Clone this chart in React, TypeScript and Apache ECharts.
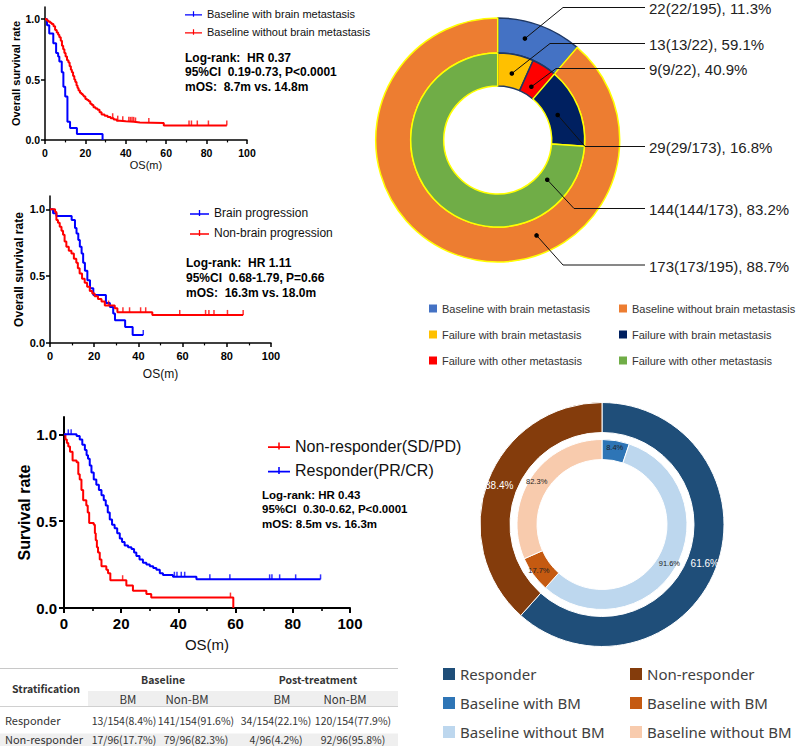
import React, { useEffect, useRef } from 'react';
import * as echarts from 'echarts';

// ---------------- DATA ----------------
// Panel A: baseline brain metastasis vs none (time in months, survival)
const aBmName = 'Baseline with brain metastasis';
const aBmTime = [0, 1.0, 2.1, 4.1, 5.5, 6.5, 7.1, 8.3, 9.1, 10.0, 11.1, 12.4, 15.8, 28.5];
const aBmSurv = [1.0, 0.95, 0.88, 0.8, 0.72, 0.69, 0.65, 0.56, 0.44, 0.36, 0.15, 0.1, 0.05, 0.0];
const aBmEnd = 28.5;
const aBmCensor: number[] = [];
const aNoName = 'Baseline without brain metastasis';
const aNoTime = [0, 0.8, 1.5, 2.5, 3.3, 4.2, 5.0, 5.8, 6.5, 7.1, 7.8, 8.4, 9.0, 9.6, 10.2, 10.9, 11.6, 12.2, 12.8, 13.3, 13.9, 14.5, 15.0, 15.6, 16.1, 16.6, 17.3, 18.0, 18.7, 19.2, 20.0, 20.8, 21.6, 22.4, 23.2, 24.0, 25.0, 26.0, 27.0, 28.0, 29.5, 31.0, 32.5, 34.0, 35.5, 37.0, 40.0, 44.0, 47.0, 58.8];
const aNoSurv = [1.0, 0.99, 0.98, 0.97, 0.96, 0.94, 0.91, 0.89, 0.87, 0.85, 0.82, 0.78, 0.75, 0.72, 0.69, 0.66, 0.64, 0.61, 0.58, 0.56, 0.53, 0.5, 0.48, 0.45, 0.43, 0.41, 0.39, 0.38, 0.37, 0.36, 0.34, 0.33, 0.32, 0.3, 0.29, 0.27, 0.26, 0.25, 0.23, 0.21, 0.2, 0.19, 0.18, 0.17, 0.16, 0.155, 0.15, 0.145, 0.14, 0.12];
const aNoEnd = 90;
const aNoCensor = [33.5, 36, 38.5, 41.5, 42.3, 43.1, 43.9, 44.8, 51.4, 71.3, 72.5, 75.4, 80.9, 90];
const statsA = ['Log-rank:  HR 0.37', '95%CI  0.19-0.73, P<0.0001', 'mOS:  8.7m vs. 14.8m'];

// Panel B: brain progression vs non-brain progression
const bBrName = 'Brain progression';
const bBrTime = [0, 1.4, 2.9, 9.8, 11.3, 12.0, 12.8, 13.5, 14.3, 15.0, 15.8, 16.9, 18.1, 19.6, 25.3, 27.1, 28.6, 29.4, 34.0, 37.4];
const bBrSurv = [1, 0.97, 0.95, 0.92, 0.86, 0.82, 0.77, 0.72, 0.67, 0.6, 0.54, 0.47, 0.41, 0.36, 0.3, 0.27, 0.22, 0.17, 0.12, 0.06];
const bBrEnd = 42.2;
const bBrCensor = [42.2];
const bNoName = 'Non-brain progression';
const bNoTime = [0, 2.3, 2.9, 3.6, 4.4, 5.2, 5.9, 6.6, 7.4, 8.5, 9.7, 10.8, 11.9, 12.6, 13.4, 14.5, 15.7, 16.8, 18.0, 19.1, 20.2, 21.7, 23.3, 24.8, 29.3, 30.5, 46.3];
const bNoSurv = [1, 0.98, 0.92, 0.9, 0.87, 0.84, 0.81, 0.76, 0.72, 0.69, 0.67, 0.63, 0.6, 0.56, 0.52, 0.48, 0.45, 0.42, 0.39, 0.37, 0.35, 0.33, 0.31, 0.28, 0.26, 0.23, 0.21];
const bNoEnd = 87.4;
const bNoCensor = [26.5, 33, 36, 41, 43.3, 58.7, 70.4, 71.9, 74.2, 80.3, 87.4];
const statsB = ['Log-rank:  HR 1.11', '95%CI  0.68-1.79, P=0.66', 'mOS:  16.3m vs. 18.0m'];

// Panel C: responder vs non-responder
const cNrName = 'Non-responder(SD/PD)';
const cNrTime = [0, 0.5, 1.0, 1.5, 2.1, 3.0, 4.4, 5.0, 5.5, 6.1, 6.7, 7.8, 8.3, 8.8, 10.4, 10.8, 11.1, 11.5, 11.9, 12.5, 13.1, 14.8, 15.4, 16.2, 21.8, 24.1, 28.8, 30.5, 59.2];
const cNrSurv = [1, 0.97, 0.95, 0.93, 0.9, 0.85, 0.84, 0.77, 0.74, 0.68, 0.62, 0.59, 0.55, 0.49, 0.48, 0.43, 0.39, 0.35, 0.32, 0.28, 0.24, 0.22, 0.2, 0.16, 0.13, 0.1, 0.08, 0.06, 0];
const cNrEnd = 59.2;
const cNrCensor = [20.5, 58.2];
const cRName = 'Responder(PR/CR)';
const cRTime = [0, 4.4, 5.5, 6.4, 7.3, 7.9, 8.4, 9.0, 9.6, 10.4, 11.3, 12.2, 13.1, 13.9, 14.6, 15.3, 16.0, 16.8, 17.7, 18.6, 19.5, 20.3, 21.2, 22.4, 23.6, 24.5, 25.3, 26.4, 27.6, 28.8, 30.0, 31.2, 32.3, 33.5, 34.6, 38.1, 46.3];
const cRSurv = [1, 0.99, 0.97, 0.94, 0.91, 0.88, 0.86, 0.82, 0.78, 0.74, 0.71, 0.68, 0.65, 0.62, 0.59, 0.55, 0.51, 0.48, 0.46, 0.43, 0.4, 0.38, 0.36, 0.35, 0.34, 0.32, 0.3, 0.28, 0.26, 0.25, 0.24, 0.23, 0.22, 0.2, 0.19, 0.18, 0.165];
const cREnd = 89.7;
const cRCensor = [1.5, 2.5, 38.6, 39.5, 41, 42.2, 51, 58, 71.9, 72.7, 75.4, 81, 89.7];
const statsC = ['Log-rank: HR 0.43', '95%CI  0.30-0.62, P<0.0001', 'mOS: 8.5m vs. 16.3m'];

const xTickValues = [0, 20, 40, 60, 80, 100];
const yTickValues = [0, 0.5, 1.0];

// Donut 1 (failure pattern)
const d1OuterNames = ['Baseline with brain metastasis', 'Baseline without brain metastasis'];
const d1OuterValues = [22, 173];
const d1InnerNames = ['Failure with brain metastasis', 'Failure with other metastasis', 'Failure with brain metastasis', 'Failure with other metastasis'];
const d1InnerValues = [13, 9, 29, 144];
const d1InnerParent = [0, 0, 1, 1];

// Donut 2 (response)
const d2OuterNames = ['Responder', 'Non-responder'];
const d2OuterValues = [154, 96];
const d2InnerNames = ['Baseline with BM', 'Baseline without BM', 'Baseline with BM', 'Baseline without BM'];
const d2InnerValues = [13, 141, 17, 79];
const d2InnerParent = [0, 0, 1, 1];

// Table
const tableGroups = ['Baseline', 'Post-treatment'];
const tableCols = ['BM', 'Non-BM', 'BM', 'Non-BM'];
const tableRows = ['Responder', 'Non-responder'];
const tableValues = [
  ['13/154(8.4%)', '141/154(91.6%)', '34/154(22.1%)', '120/154(77.9%)'],
  ['17/96(17.7%)', '79/96(82.3%)', '4/96(4.2%)', '92/96(95.8%)'],
];

// ---------------- STYLE / LAYOUT ----------------
const FONT = 'Arial, "Liberation Sans", sans-serif';
const CJK = '"Noto Sans CJK SC", "Noto Sans", sans-serif';
const RED = '#FF0000';
const BLUE = '#0000FF';
const KM_ICON = 'path://M0,3.5L20,3.5L20,5L0,5Z M9.3,0L10.7,0L10.7,6.5L9.3,6.5Z';

const d1OuterColors = ['#4472C4', '#ED7D31'];
const d1OuterBorders = ['#1F3864', '#FFFF00'];
const d1InnerColors = ['#FFC000', '#FF0000', '#002060', '#70AD47'];
const d1InnerBorders = ['#1F3864', '#1F3864', '#FFFF00', '#FFFF00'];
const d1Center = [497.7, 140];
const d1OuterR = [87, 122];
const d1InnerR = [54, 87];
// annotation layout: [ring, index, fraction along slice, anchor radius, elbow x, elbow y]
const d1Annot: [string, number, number, number, number, number][] = [
  ['o', 0, 0.37, 105, 563, 7.5],
  ['i', 0, 0.5, 68, 550, 43.5],
  ['i', 1, 0.5, 63, 556, 68.5],
  ['i', 2, 0.5, 65, 585, 146.5],
  ['i', 3, 0.13, 63.5, 574, 208.5],
  ['o', 1, 0.367, 103, 563, 265],
];

const d2OuterColors = ['#1F4E79', '#843C0C'];
const d2InnerColors = ['#2E75B6', '#BDD7EE', '#C55A11', '#F8CBAD'];
const d2Center = [602, 524.5];

function kmLine(T: number[], S: number[], end: number) {
  const pts = T.map((t, i) => [t, S[i]]);
  if (end > T[T.length - 1]) pts.push([end, S[S.length - 1]]);
  return pts;
}
function survAt(T: number[], S: number[], t: number) {
  let s = S[0];
  for (let i = 0; i < T.length; i++) if (T[i] <= t) s = S[i];
  return s;
}
const fmt1 = (v: number) => (Math.round(v * 10) / 10).toFixed(1);

export default function App() {
  const ref = useRef<HTMLDivElement>(null);
  useEffect(() => {
    if (!ref.current) return;
    const chart = echarts.init(ref.current, undefined, { renderer: 'svg' });

    const grids = [
      { left: 45, top: 7, width: 202, height: 133 },
      { left: 50, top: 196, width: 221, height: 147 },
      { left: 64, top: 417, width: 286, height: 191 },
    ];
    const axCfg = [
      { tick: 10.5, lw: 1.5, tl: 4, xm: 7, ym: 5, nameSize: 11, nameGap: 19, yName: 'Overall survival rate', yNameSize: 11, yNameGap: 23.5 },
      { tick: 11, lw: 1.5, tl: 4, xm: 7, ym: 5, nameSize: 12, nameGap: 25, yName: 'Overall survival rate', yNameSize: 12, yNameGap: 25.5 },
      { tick: 15, lw: 2, tl: 5, xm: 8, ym: 7, nameSize: 15, nameGap: 29, yName: 'Survival rate', yNameSize: 16, yNameGap: 31 },
    ];
    const xAxis = axCfg.map((c, i) => ({
      type: 'value', gridIndex: i, min: 0, max: 100, interval: 20,
      name: 'OS(m)', nameLocation: 'middle', nameGap: c.nameGap,
      nameTextStyle: { fontSize: c.nameSize, fontFamily: FONT, color: '#111' },
      axisLine: { lineStyle: { color: '#000', width: c.lw } },
      axisTick: { length: c.tl, lineStyle: { color: '#000', width: c.lw }, customValues: xTickValues },
      minorTick: { show: true, splitNumber: 2, length: c.tl * 0.6, lineStyle: { color: '#000', width: c.lw * 0.8 } },
      axisLabel: { fontSize: c.tick, fontWeight: 'bold', fontFamily: FONT, color: '#000', margin: c.xm, customValues: xTickValues },
      splitLine: { show: false },
    }));
    const yAxis = axCfg.map((c, i) => ({
      type: 'value', gridIndex: i, min: 0, max: 1.1, interval: 0.5,
      name: c.yName, nameLocation: 'middle', nameGap: c.yNameGap,
      nameTextStyle: { fontSize: c.yNameSize, fontWeight: 'bold', fontFamily: FONT, color: '#000' },
      axisLine: { lineStyle: { color: '#000', width: c.lw } },
      axisTick: { length: c.tl, lineStyle: { color: '#000', width: c.lw }, customValues: yTickValues },
      axisLabel: {
        fontSize: c.tick, fontWeight: 'bold', fontFamily: FONT, color: '#000', margin: c.ym,
        customValues: yTickValues,
        formatter: (v: number) => (Math.abs(v * 2 - Math.round(v * 2)) < 1e-6 ? v.toFixed(1) : ''),
      },
      splitLine: { show: false },
    }));

    const line = (name: string, color: string, gi: number, T: number[], S: number[], end: number) => ({
      type: 'line', name, xAxisIndex: gi, yAxisIndex: gi, data: kmLine(T, S, end), step: 'end',
      symbol: 'none', showSymbol: false, silent: true, z: 3,
      lineStyle: { color, width: 2 }, itemStyle: { color },
    });
    const censor = (name: string, color: string, gi: number, T: number[], S: number[], C: number[]) => ({
      type: 'scatter', name, xAxisIndex: gi, yAxisIndex: gi,
      data: C.map((c) => [c, survAt(T, S, c)]),
      symbol: 'rect', symbolSize: [1.5, 5], symbolOffset: [0, -2.5], silent: true, z: 4,
      itemStyle: { color },
    });

    const key = (ring: string, i: number, n: string) => `${n}#${ring}${i}`;

    const d1OuterTotal = d1OuterValues.reduce((a, b) => a + b, 0);
    const d2OuterTotal = d2OuterValues.reduce((a, b) => a + b, 0);

    const series: any[] = [
      line(aBmName, BLUE, 0, aBmTime, aBmSurv, aBmEnd),
      line(aNoName, RED, 0, aNoTime, aNoSurv, aNoEnd),
      censor('cA1', BLUE, 0, aBmTime, aBmSurv, aBmCensor),
      censor('cA2', RED, 0, aNoTime, aNoSurv, aNoCensor),
      line(bBrName, BLUE, 1, bBrTime, bBrSurv, bBrEnd),
      line(bNoName, RED, 1, bNoTime, bNoSurv, bNoEnd),
      censor('cB1', BLUE, 1, bBrTime, bBrSurv, bBrCensor),
      censor('cB2', RED, 1, bNoTime, bNoSurv, bNoCensor),
      line(cNrName, RED, 2, cNrTime, cNrSurv, cNrEnd),
      line(cRName, BLUE, 2, cRTime, cRSurv, cREnd),
      censor('cC1', RED, 2, cNrTime, cNrSurv, cNrCensor),
      censor('cC2', BLUE, 2, cRTime, cRSurv, cRCensor),
      {
        type: 'pie', name: 'd1o', center: d1Center, radius: d1OuterR, startAngle: 90, clockwise: true,
        silent: true, avoidLabelOverlap: false, label: { show: false }, labelLine: { show: false },
        emphasis: { disabled: true },
        data: d1OuterValues.map((v, i) => ({
          name: key('o', i, d1OuterNames[i]), value: v,
          itemStyle: { color: d1OuterColors[i], borderColor: d1OuterBorders[i], borderWidth: 1.5 },
        })),
      },
      {
        type: 'pie', name: 'd1i', center: d1Center, radius: d1InnerR, startAngle: 90, clockwise: true,
        silent: true, avoidLabelOverlap: false, label: { show: false }, labelLine: { show: false },
        emphasis: { disabled: true },
        data: d1InnerValues.map((v, i) => ({
          name: key('i', i, d1InnerNames[i]), value: v,
          itemStyle: { color: d1InnerColors[i], borderColor: d1InnerBorders[i], borderWidth: 1.5 },
        })),
      },
      {
        type: 'pie', name: 'd2o', center: d2Center, radius: [92, 122], startAngle: 90, clockwise: true,
        silent: true, avoidLabelOverlap: false, labelLine: { show: false }, emphasis: { disabled: true },
        label: {
          show: true, position: 'inside', color: '#fff', fontSize: 10, fontFamily: FONT,
          formatter: (p: any) => fmt1((d2OuterValues[p.dataIndex] / d2OuterTotal) * 100) + '%',
        },
        data: d2OuterValues.map((v, i) => ({
          name: key('p', i, d2OuterNames[i]), value: v,
          itemStyle: { color: d2OuterColors[i], borderColor: '#fff', borderWidth: 1 },
        })),
      },
      {
        type: 'pie', name: 'd2i', center: d2Center, radius: [65, 85], startAngle: 90, clockwise: true,
        silent: true, avoidLabelOverlap: false, labelLine: { show: false }, emphasis: { disabled: true },
        label: {
          show: true, position: 'inside', color: '#222', fontSize: 7.5, fontFamily: FONT,
          formatter: (p: any) => fmt1((d2InnerValues[p.dataIndex] / d2OuterValues[d2InnerParent[p.dataIndex]]) * 100) + '%',
        },
        data: d2InnerValues.map((v, i) => ({
          name: key('q', i, d2InnerNames[i]), value: v,
          itemStyle: { color: d2InnerColors[i], borderColor: '#fff', borderWidth: 1 },
        })),
      },
    ];

    const strip = (n: string) => n.split('#')[0];
    const kmLegend = (names: string[], left: number, top: number, size: number, gap: number, iw: number, ih: number) => ({
      data: names, left, top, orient: 'vertical', padding: 0, itemGap: gap, itemWidth: iw, itemHeight: ih,
      icon: KM_ICON, selectedMode: false,
      textStyle: { fontSize: size, lineHeight: size, fontFamily: FONT, color: '#111' },
    });
    const pieLegend = (names: string[], left: number, top: number, size: number, gap: number, sq: number, font: string, color: string) => ({
      data: names, left, top, orient: 'vertical', padding: 0, itemGap: gap, itemWidth: sq, itemHeight: sq,
      icon: 'rect', selectedMode: false, formatter: strip,
      itemStyle: { borderWidth: 0 },
      textStyle: { fontSize: size, lineHeight: size, fontFamily: font, color },
    });

    const legend = [
      kmLegend([aBmName, aNoName], 185, 8.5, 11, 7, 17, 7),
      kmLegend([bBrName, bNoName], 190, 207, 12, 8, 19, 8),
      kmLegend([cNrName, cRName], 268, 438, 16, 8.5, 22, 10),
      pieLegend([key('o', 0, d1OuterNames[0]), key('i', 0, d1InnerNames[0]), key('i', 1, d1InnerNames[1])], 429, 303, 11, 15, 8, FONT, '#333'),
      pieLegend([key('o', 1, d1OuterNames[1]), key('i', 2, d1InnerNames[2]), key('i', 3, d1InnerNames[3])], 619, 303, 11, 15, 8, FONT, '#333'),
      pieLegend([key('p', 0, d2OuterNames[0]), key('q', 0, d2InnerNames[0]), key('q', 1, d2InnerNames[1])], 443, 666.5, 15, 14, 12, '"Noto Sans", sans-serif', '#404040'),
      pieLegend([key('p', 1, d2OuterNames[1]), key('q', 2, d2InnerNames[2]), key('q', 3, d2InnerNames[3])], 630, 666.5, 15, 14, 12, '"Noto Sans", sans-serif', '#404040'),
    ];

    const txt = (text: string, x: number, y: number, font: string, fill = '#000', align = 'left') => ({
      type: 'text', z: 100, silent: true,
      style: { text, x, y, font, fill, align, textAlign: align, verticalAlign: 'middle', textVerticalAlign: 'middle' },
    });

    const graphic: any[] = [];
    // stats text
    statsA.forEach((s, i) => graphic.push(txt(s, 185, 57.5 + i * 14.5, `bold 12px ${FONT}`)));
    statsB.forEach((s, i) => graphic.push(txt(s, 186, 263 + i * 15, `bold 12px ${FONT}`)));
    statsC.forEach((s, i) => graphic.push(txt(s, 262, 495 + i * 14.3, `bold 11.5px ${FONT}`)));

    // donut 1 annotations
    const sliceAngles = (vals: number[], total: number) => {
      const out: [number, number][] = [];
      let acc = 0;
      vals.forEach((v) => { out.push([(acc / total) * 360, ((acc + v) / total) * 360]); acc += v; });
      return out;
    };
    const oAng = sliceAngles(d1OuterValues, d1OuterTotal);
    const iAng = sliceAngles(d1InnerValues, d1OuterTotal);
    d1Annot.forEach(([ring, idx, frac, r, ex, ey]) => {
      const ang = ring === 'o' ? oAng[idx] : iAng[idx];
      const a = ((ang[0] + (ang[1] - ang[0]) * frac) * Math.PI) / 180;
      const px = d1Center[0] + r * Math.sin(a);
      const py = d1Center[1] - r * Math.cos(a);
      const v = ring === 'o' ? d1OuterValues[idx] : d1InnerValues[idx];
      const tot = ring === 'o' ? d1OuterTotal : d1OuterValues[d1InnerParent[idx]];
      const label = `${v}(${v}/${tot}), ${fmt1((v / tot) * 100)}%`;
      graphic.push({ type: 'polyline', z: 100, silent: true, shape: { points: [[px, py], [ex, ey], [645, ey]] }, style: { stroke: '#111', lineWidth: 1, fill: null } });
      graphic.push({ type: 'circle', z: 101, silent: true, shape: { cx: px, cy: py, r: 2.3 }, style: { fill: '#000' } });
      graphic.push(txt(label, 649, ey + 1, `15px ${FONT}`, '#222'));
    });

    // table
    const tfLabel = `11px ${CJK}`;
    const tfHead = `11.5px ${CJK}`;
    const tfVal = `10.5px ${CJK}`;
    const tfb = `bold 10.5px ${CJK}`;
    graphic.push({ type: 'rect', z: 90, silent: true, shape: { x: 88, y: 691, width: 310, height: 15 }, style: { fill: '#efefef' } });
    graphic.push({ type: 'rect', z: 90, silent: true, shape: { x: 0, y: 733.5, width: 398, height: 14 }, style: { fill: '#efefef' } });
    graphic.push({ type: 'line', z: 91, silent: true, shape: { x1: 0, y1: 668.5, x2: 398, y2: 668.5 }, style: { stroke: '#c8c8c8', lineWidth: 1 } });
    graphic.push({ type: 'line', z: 91, silent: true, shape: { x1: 0, y1: 706.5, x2: 398, y2: 706.5 }, style: { stroke: '#d0d0d0', lineWidth: 1 } });
    graphic.push(txt('Stratification', 12, 688, tfb, '#333'));
    const groupX = [163, 318];
    tableGroups.forEach((g, i) => graphic.push(txt(g, groupX[i], 679, tfb, '#333', 'center')));
    const headX = [128, 187, 282, 345];
    tableCols.forEach((c, i) => graphic.push(txt(c, headX[i], 698.5, tfHead, '#333', 'center')));
    const colX = [124, 196, 276, 353];
    const rowY = [720, 739];
    tableRows.forEach((r, ri) => {
      graphic.push(txt(r, 5, rowY[ri], tfLabel, '#333'));
      tableValues[ri].forEach((v, ci) => graphic.push(txt(v, colX[ci], rowY[ri], tfVal, '#333', 'center')));
    });

    chart.setOption({
      animation: false,
      textStyle: { fontFamily: FONT },
      grid: grids,
      xAxis,
      yAxis,
      legend,
      series,
      graphic,
    });
    return () => chart.dispose();
  }, []);
  return <div ref={ref} style={{ position: 'absolute', left: 0, top: 0, width: 801, height: 746, background: '#fff' }} />;
}
